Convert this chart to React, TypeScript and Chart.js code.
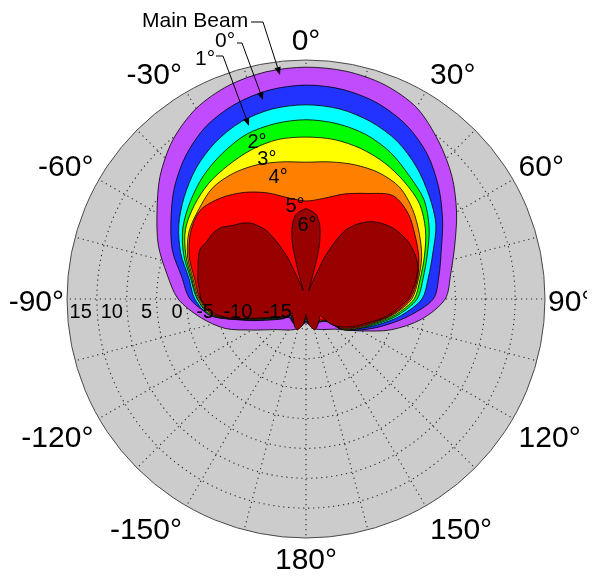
import React, { useEffect, useRef } from 'react';
import { Chart, registerables } from 'chart.js';

Chart.register(...registerables);

// ---------- axes ----------
const radialMin = -20;
const radialMax = 20;
const radialStep = 5;
const radialTickLabels = [15, 10, 5, 0, -5, -10, -15];
const azimuthTicks = [0, 30, 60, 90, 120, 150, 180, -150, -120, -90, -60, -30];

// ---------- contour data (azimuth deg clockwise from top, level dB) ----------
const bandAngles = [0, 10, 20, 30, 40, 50, 60, 70, 80, 90, 100, 110, 120, 130, 137, 150, 164, 172, 180,
  -172, -164, -150, -137, -130, -120, -110, -100, -90, -80, -70, -60, -50, -40, -30, -20, -10];

const mainBeamDb = [18.8, 18.7, 18.2, 17.0, 14.5, 11.9, 9.1, 6.5, 4.6, 3.3, -0.4, -4.9, -9.3, -12.0, -13.1, -14.1, -14.8, -15.6, -16.0,
  -15.6, -14.8, -14.0, -13.0, -12.0, -9.6, -5.6, -2.1, 1.4, 3.6, 6.3, 8.8, 11.9, 14.7, 16.8, 18.0, 18.6];
const zeroDegDb = [15.8, 15.6, 14.9, 13.6, 11.6, 9.0, 6.4, 4.1, 2.6, 1.3, -2.8, -6.6, -9.6, -12.1, -14.8, -15.5, -15.0, -15.8, -16.2,
  -15.8, -15.0, -15.5, -15.8, -14.8, -13.0, -9.5, -4.1, -0.6, 1.1, 3.8, 6.1, 8.8, 11.3, 13.4, 14.7, 15.5];
const oneDegDb = [12.5, 12.3, 11.6, 10.5, 8.8, 6.9, 5.1, 2.6, 0.8, -0.6, -3.9, -7.3, -10.0, -12.1, -15.0, -15.6, -15.0, -15.8, -16.3,
  -15.8, -15.0, -15.6, -16.0, -15.0, -13.1, -9.8, -3.8, -1.4, -0.1, 2.3, 4.6, 6.6, 8.6, 10.3, 11.6, 12.3];
const twoDegDb = [10.0, 9.8, 9.3, 8.3, 6.9, 5.8, 3.8, 1.6, -0.1, -1.4, -4.4, -7.6, -10.1, -12.1, -15.0, -15.6, -15.0, -15.8, -16.5,
  -15.8, -15.0, -15.6, -16.2, -15.0, -13.3, -10.0, -3.9, -1.8, -0.4, 1.8, 3.8, 5.3, 6.8, 8.1, 9.3, 9.8];
const threeDegDb = [7.1, 7.1, 6.8, 6.3, 5.6, 4.8, 3.1, 1.1, -0.6, -1.9, -4.8, -7.9, -10.1, -12.1, -15.0, -15.6, -15.0, -15.8, -16.7,
  -15.8, -15.0, -15.6, -16.2, -15.1, -13.5, -10.1, -4.1, -1.9, -0.6, 1.4, 3.3, 4.4, 5.3, 5.9, 6.6, 7.1];
const fourDegDb = [2.9, 3.3, 3.9, 4.4, 4.4, 3.3, 1.9, 0.6, -0.9, -2.3, -5.1, -8.1, -10.3, -12.3, -15.0, -15.6, -15.0, -15.8, -16.8,
  -15.8, -15.0, -15.6, -16.3, -15.1, -13.6, -10.3, -4.3, -2.1, -0.8, 1.1, 2.6, 3.4, 4.3, 4.3, 3.9, 3.3];
const fiveDegDb = [-3.6, -2.9, -1.3, 0.4, 2.6, 2.3, 1.1, 0.1, -1.1, -2.6, -5.3, -8.3, -10.5, -12.5, -15.1, -15.8, -15.0, -15.8, -17.0,
  -15.8, -15.0, -15.8, -16.3, -15.3, -13.8, -10.5, -4.4, -2.3, -1.1, 0.8, 2.3, 3.1, 2.1, 0.6, -1.1, -2.8];

const sixDegAngles = [0, 4, 7, 10, 12, 14, 15, 16, 17, 18, 19, 20, 22, 24, 27, 30, 35, 40, 45, 50,
  55, 60, 65, 70, 75, 80, 85, 90, 95, 100, 105, 110, 115, 120, 125, 130, 135, 137, 139, 142,
  146, 153, 158, 164, 168, 172, 176, 180,
  -176, -172, -168, -164, -158, -153, -146, -142, -138, -135, -130, -125, -120, -115, -110, -105,
  -100, -95, -90, -85, -80, -75, -70, -65, -60, -55, -50, -45, -40, -35, -30, -27, -24, -22, -20,
  -19, -18, -17, -16, -15, -14, -12, -10, -7, -4];
const sixDegDb = [-4.9, -5.3, -5.8, -7.1, -8.6, -10.8, -13.0, -15.8, -18.0, -18.5, -18.5, -17.7, -16.0, -12.3, -9.1, -6.6, -4.6, -3.1, -2.1, -1.3,
  -0.8, -0.4, -0.3, -0.3, -0.6, -1.3, -2.1, -2.9, -4.3, -5.6, -7.1, -8.6, -9.8, -10.8, -11.8, -12.8, -14.0, -15.3, -16.3, -16.3,
  -16.0, -15.5, -15.0, -14.6, -15.0, -15.5, -16.3, -17.5,
  -16.3, -15.5, -15.0, -14.6, -15.0, -15.5, -16.2, -16.3, -16.5, -16.7, -15.5, -14.8, -14.0, -12.6, -10.6, -7.3,
  -4.8, -3.4, -2.4, -2.1, -1.6, -1.3, -0.8, -0.4, -0.8, -0.9, -1.4, -2.6, -3.4, -4.6, -6.8, -9.3, -12.3, -16.0, -17.7,
  -18.5, -18.5, -18.0, -15.8, -13.0, -10.8, -8.6, -7.1, -5.8, -5.3];

const contourNames = ['6°', '5°', '4°', '3°', '2°', '1°', '0°', 'Main Beam'];
const contourColors = ['#990000', '#ff0000', '#ff8000', '#ffff00', '#00ff00', '#00ffff', '#2233ff', '#c04cfd'];

// annotation anchors (scale units): level-label centres on the -90° spoke, in-band labels
const radialLabelAt = [17.7, 12.5, 6.7, 1.6, -3.1, -8.6, -15.2];
const bandLabels = ['2°', '3°', '4°', '5°', '6°'];
const bandLabelAz = [-17.2, -15.5, -12.8, -6.7, 0.8];
const bandLabelDb = [7.7, 4.5, 1.1, -4.2, -7.4];

const FONT = '"Liberation Sans", Arial, Helvetica, sans-serif';

function buildSeries(angles: number[], values: number[]): (number | null)[] {
  const out: (number | null)[] = new Array(360).fill(null);
  angles.forEach((a, i) => {
    out[((a % 360) + 360) % 360] = values[i];
  });
  return out;
}

function leader(ctx: CanvasRenderingContext2D, pts: number[][]) {
  const n = pts.length;
  const [x1, y1] = pts[n - 2];
  const [x2, y2] = pts[n - 1];
  const ang = Math.atan2(y2 - y1, x2 - x1);
  const L = 8;
  const W = 3.2;
  const bx = x2 - L * Math.cos(ang);
  const by = y2 - L * Math.sin(ang);
  ctx.beginPath();
  ctx.moveTo(pts[0][0], pts[0][1]);
  for (let i = 1; i < n - 1; i++) ctx.lineTo(pts[i][0], pts[i][1]);
  ctx.lineTo(bx, by);
  ctx.stroke();
  ctx.beginPath();
  ctx.moveTo(x2, y2);
  ctx.lineTo(bx + W * Math.sin(ang), by - W * Math.cos(ang));
  ctx.lineTo(bx - W * Math.sin(ang), by + W * Math.cos(ang));
  ctx.closePath();
  ctx.fill();
}

const overlayPlugin = {
  id: 'polarOverlay',
  afterDraw(chart: any) {
    const scale = chart.scales.r;
    const ctx: CanvasRenderingContext2D = chart.ctx;
    const cx = scale.xCenter;
    const cy = scale.yCenter;
    const R = scale.drawingArea;
    const toRad = (d: number) => (d * Math.PI) / 180;
    ctx.save();
    ctx.fillStyle = '#000';
    ctx.strokeStyle = '#000';
    ctx.lineWidth = 1;

    // azimuth labels, aligned away from the rim like point labels
    const azSize = 30;
    const cap = azSize * 0.716;
    ctx.font = `${azSize}px ${FONT}`;
    ctx.textBaseline = 'alphabetic';
    azimuthTicks.forEach((deg) => {
      const a = toRad(deg);
      const s = Math.sin(a);
      const c = Math.cos(a);
      const d = R + 3 + 7 * Math.abs(c);
      const p = scale.getPointPosition(0, d, a);
      ctx.textAlign = s > 0.1 ? 'left' : s < -0.1 ? 'right' : 'center';
      let y = p.y + cap / 2 + 1;
      if (c > 0.1) y = p.y;
      else if (c < -0.1) y = p.y + cap + (Math.abs(s) > 0.1 ? 4 : 0);
      ctx.fillText(`${deg}°`, p.x, y);
    });

    // radial level labels along the -90° spoke
    ctx.font = `20px ${FONT}`;
    ctx.textAlign = 'center';
    radialTickLabels.forEach((v, i) => {
      const d = scale.getDistanceFromCenterForValue(radialLabelAt[i]);
      const p = scale.getPointPosition(0, d, -Math.PI / 2);
      ctx.fillText(String(v), p.x, p.y + 19);
    });

    // in-band labels
    ctx.font = `20px ${FONT}`;
    bandLabels.forEach((t, i) => {
      const d = scale.getDistanceFromCenterForValue(bandLabelDb[i]);
      const p = scale.getPointPosition(0, d, toRad(bandLabelAz[i]));
      ctx.fillText(t, p.x, p.y + 7);
    });

    // callouts
    ctx.font = `21px ${FONT}`;
    ctx.textAlign = 'left';
    ctx.fillText('Main Beam', cx - 164, cy - 272);
    ctx.fillText('0°', cx - 91, cy - 252);
    ctx.fillText('1°', cx - 111, cy - 234);
    leader(ctx, [[cx - 55, cy - 277], [cx - 43, cy - 277], [cx - 26, cy - 224]]);
    leader(ctx, [[cx - 69, cy - 256], [cx - 64, cy - 256], [cx - 43, cy - 199]]);
    leader(ctx, [[cx - 90, cy - 243], [cx - 83, cy - 243], [cx - 57, cy - 173]]);
    ctx.restore();
  },
};

export default function App() {
  const canvasRef = useRef<HTMLCanvasElement | null>(null);

  useEffect(() => {
    if (!canvasRef.current) return;
    const labels = Array.from({ length: 360 }, (_, i) => String(i));
    const seriesAngles = [sixDegAngles, bandAngles, bandAngles, bandAngles, bandAngles, bandAngles, bandAngles, bandAngles];
    const seriesValues = [sixDegDb, fiveDegDb, fourDegDb, threeDegDb, twoDegDb, oneDegDb, zeroDegDb, mainBeamDb];
    const datasets = contourNames.map((name, i) => ({
      label: name,
      data: buildSeries(seriesAngles[i], seriesValues[i]),
      backgroundColor: contourColors[i],
      borderColor: '#000',
      borderWidth: 0.8,
      borderJoinStyle: 'round' as const,
      fill: 'start',
      spanGaps: true,
      pointRadius: 0,
      pointHoverRadius: 0,
      tension: i === 0 ? 0.2 : 0.3,
    }));

    const chart = new Chart(canvasRef.current, {
      type: 'radar',
      data: { labels, datasets },
      options: {
        responsive: false,
        animation: false,
        devicePixelRatio: 1,
        layout: { padding: { left: 59, top: 52, right: 42, bottom: 31 } },
        plugins: {
          legend: { display: false },
          tooltip: { enabled: false },
          title: { display: false },
        },
        scales: {
          r: {
            min: radialMin,
            max: radialMax,
            startAngle: 0,
            backgroundColor: '#cccccc',
            ticks: { display: false, stepSize: radialStep },
            pointLabels: { display: false },
            grid: {
              circular: true,
              color: (c: any) => (c.tick && c.tick.value === radialMax ? '#4a4a4a' : '#2a2a2a'),
              lineWidth: (c: any) => (c.tick && c.tick.value === radialMax ? 1 : 1.1),
            },
            border: {
              dash: (c: any) => (c.tick && c.tick.value === radialMax ? [] : [1.2, 3.8]),
            },
            angleLines: {
              display: true,
              color: '#2a2a2a',
              lineWidth: (c: any) => (c.index % 15 === 0 ? 1.1 : 0),
              borderDash: [1.2, 3.8],
            },
          },
        },
      } as any,
      plugins: [overlayPlugin],
    });
    return () => chart.destroy();
  }, []);

  return (
    <div style={{ width: 579, height: 561 }}>
      <canvas ref={canvasRef} width={579} height={561} style={{ display: 'block' }} />
    </div>
  );
}
